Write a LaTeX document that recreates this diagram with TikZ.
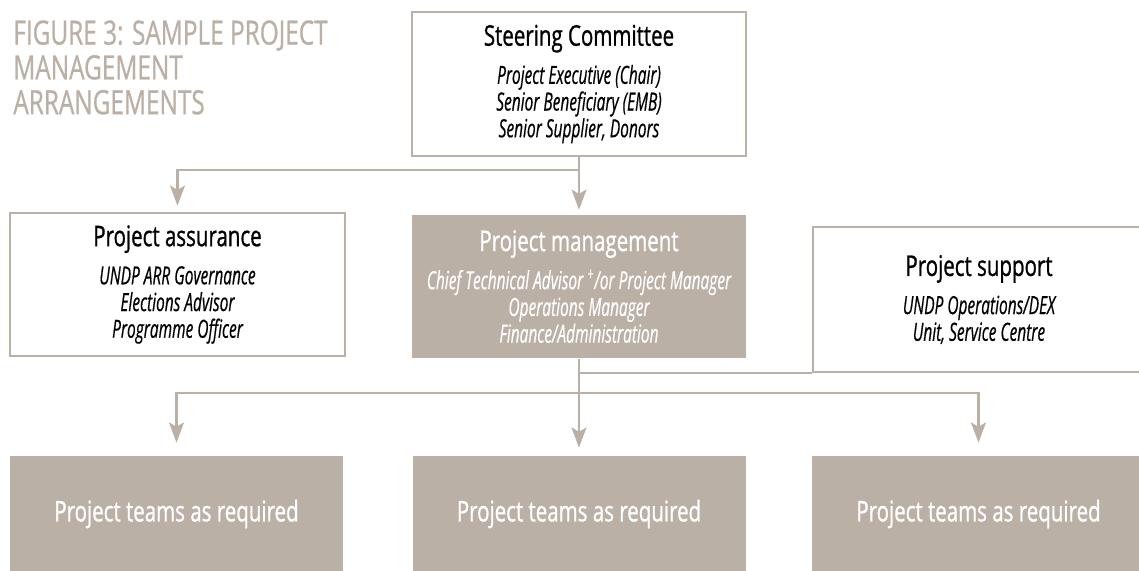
\documentclass[tikz,border=0pt]{standalone}
\usepackage{fontspec}
\usepackage{tikz}
\usetikzlibrary{arrows.meta,calc}

\newfontfamily\titlefont[FakeStretch=0.73,FakeBold=0.7]{Open Sans}
\newfontfamily\headfont[FakeStretch=0.72,FakeBold=0.9]{Open Sans}
\newfontfamily\subfont[FakeStretch=0.62,FakeBold=0.5]{Open Sans}
\definecolor{tan}{RGB}{187,176,165}
\newcommand{\hd}[1]{{\headfont\upshape\fontsize{16.2}{19}\selectfont #1}}

\begin{document}
\begin{tikzpicture}[
        box/.style = {draw = tan, line width = 1.4pt, align = center, inner sep = 0pt,
            font = \subfont\itshape\fontsize{14.2}{15.2}\selectfont},
        fillbox/.style = {box, draw = none, fill = tan, text = white},
        teambox/.style = {fill = tan, text = white, inner sep = 0pt,
            minimum width = 6.66cm, minimum height = 2.32cm,
            font = \headfont\fontsize{16.2}{19}\selectfont},
        link/.style = {draw = tan, line width = 1.4pt},
        arr/.style = {link, -{Stealth[length = 11.5pt, width = 8.5pt, inset = 2.5pt]}}]
        % page of 1139 x 570 px, 1px = 0.02cm
        \useasboundingbox (0,0) rectangle (22.78,-11.40);

        % title
        \node[anchor = north west, inner sep = 0pt, align = left, text = tan,
            font = \titlefont\fontsize{19}{19.8}\selectfont] (title) at (0.26,-0.40)
            {FIGURE 3: SAMPLE PROJECT\\MANAGEMENT\\ARRANGEMENTS};

        % steering committee
        \node[box, minimum width = 6.68cm, minimum height = 2.88cm] (steer) at (11.58,-1.68)
            {\hd{Steering Committee}\\[6.5pt] Project Executive (Chair)\\
             Senior Beneficiary (EMB)\\ Senior Supplier, Donors};

        % middle row
        \node[box, minimum width = 6.70cm, minimum height = 2.86cm] (assure) at (3.55,-5.69)
            {\hd{Project assurance}\\[6.5pt] UNDP ARR Governance\\
             Elections Advisor\\ Programme Officer};
        \node[fillbox, minimum width = 6.68cm, minimum height = 2.86cm] (pm) at (11.58,-5.73)
            {\hd{Project management}\\[6.5pt] Chief Technical Advisor \textsuperscript{+}/or Project Manager\\
             Operations Manager\\ Finance/Administration};
        \node[box, minimum width = 6.64cm, minimum height = 2.90cm] (support) at (19.58,-5.99)
            {\hd{Project support}\\[6.5pt] UNDP Operations/DEX\\ Unit, Service Centre};

        % teams
        \node[teambox] (team1) at (3.53,-10.28) {Project teams as required};
        \node[teambox] (team2) at (11.58,-10.28) {Project teams as required};
        \node[teambox] (team3) at (19.57,-10.28) {Project teams as required};

        % arrows from the committee
        \coordinate (split) at ($(steer.south)+(0,-0.26)$);
        \draw[arr, shorten >= 0.08cm] (steer.south) -- (pm.north);
        \draw[arr, shorten >= 0.12cm] (split) -| (assure.north);

        % support link and arrows to the teams
        \coordinate (fork) at ($(pm.south)+(0,-0.68)$);
        \draw[link] (pm.south |- support.south) -- (support.south west);
        \draw[arr, shorten >= 0.16cm] (pm.south) -- (team2.north);
        \draw[arr, shorten >= 0.26cm] (fork) -| (team1.north);
        \draw[arr, shorten >= 0.26cm] (fork) -| (team3.north);
    \end{tikzpicture}
\end{document}
